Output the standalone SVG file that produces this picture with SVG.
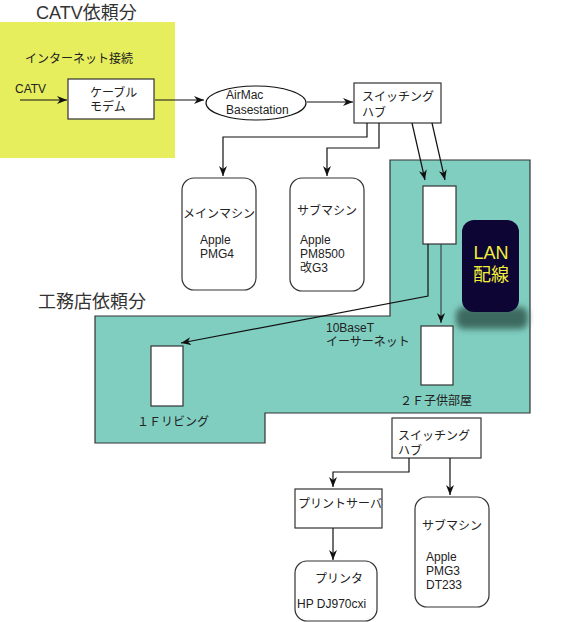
<svg xmlns="http://www.w3.org/2000/svg" width="565" height="622" viewBox="0 0 565 622">
<defs>
<style>
text{font-family:"Liberation Sans","Noto Sans CJK JP",sans-serif;font-size:12px;fill:#222}
.title{font-size:18px;fill:#333}
.box{fill:#fff;stroke:#333;stroke-width:1.2}
.conn{fill:none;stroke:#111;stroke-width:1.2}
.lan{font-size:18px;fill:#f2ee3a}
</style>
<marker id="ah" viewBox="0 0 10 8" refX="10" refY="4" markerWidth="10" markerHeight="8" markerUnits="userSpaceOnUse" orient="auto">
<path d="M0,0 L10,4 L0,8 L3,4 z" fill="#111"/>
</marker>
<filter id="blur" x="-30%" y="-60%" width="160%" height="220%"><feGaussianBlur stdDeviation="3"/></filter>
</defs>
<rect width="565" height="622" fill="#fff"/>

<g id="catv-area">
<rect x="0" y="22" width="175" height="136" fill="#e6ee5e"/>
<text class="title" x="36" y="19">CATV依頼分</text>
<text x="25" y="63">インターネット接続</text>
<text x="15" y="93">CATV</text>
</g>

<g id="koumuten-area">
<polygon points="390,160 530,160 530,413 265,413 265,443 95,443 95,316 390,316" fill="#80cec0" stroke="#333" stroke-width="1.2"/>
<text class="title" x="38" y="308">工務店依頼分</text>
<text x="326" y="332">10BaseT</text>
<text x="326" y="346">イーサーネット</text>
<text x="400" y="405">２Ｆ子供部屋</text>
<text x="137" y="426">１Ｆリビング</text>
</g>

<g id="lan-label">
<rect x="456" y="307" width="72" height="22" rx="8" fill="#3e6a60" filter="url(#blur)"/>
<rect x="462" y="220" width="57" height="92" rx="12" fill="#0d0533"/>
<text class="lan" x="491" y="259" text-anchor="middle">LAN</text>
<text class="lan" x="491" y="281" text-anchor="middle">配線</text>
</g>

<g id="cable-modem">
<rect class="box" x="68" y="79" width="86" height="40"/>
<text x="90" y="97">ケーブル</text>
<text x="90" y="111">モデム</text>
</g>

<g id="airmac">
<ellipse cx="256" cy="103" rx="50" ry="17" fill="#fff" stroke="#111" stroke-width="1.2"/>
<text x="226" y="99">AirMac</text>
<text x="226" y="114">Basestation</text>
</g>

<g id="hub1">
<rect class="box" x="354" y="83" width="87" height="40"/>
<text x="362" y="101">スイッチング</text>
<text x="362" y="117">ハブ</text>
</g>

<g id="main-machine">
<rect class="box" x="182" y="178" width="74" height="112" rx="12"/>
<text x="183" y="218">メインマシン</text>
<text x="200" y="244">Apple</text>
<text x="200" y="258">PMG4</text>
</g>

<g id="sub-machine1">
<rect class="box" x="290" y="178" width="74" height="113" rx="12"/>
<text x="297" y="215">サブマシン</text>
<text x="300" y="244">Apple</text>
<text x="300" y="258">PM8500</text>
<text x="300" y="272">改G3</text>
</g>

<g id="wall-outlet-upper">
<rect class="box" x="423" y="186" width="33" height="58"/>
</g>
<g id="wall-outlet-2f">
<rect class="box" x="421" y="326" width="32" height="59"/>
</g>
<g id="wall-outlet-1f">
<rect class="box" x="151" y="346" width="32" height="60"/>
</g>

<g id="hub2">
<rect class="box" x="392" y="418" width="89" height="40"/>
<text x="398" y="440">スイッチング</text>
<text x="398" y="455">ハブ</text>
</g>

<g id="print-server">
<rect class="box" x="295" y="489" width="87" height="39"/>
<text x="298" y="508">プリントサーバ</text>
</g>

<g id="printer">
<rect class="box" x="295" y="561" width="82" height="60" rx="12"/>
<text x="315" y="583">プリンタ</text>
<text x="297" y="608">HP DJ970cxi</text>
</g>

<g id="sub-machine2">
<rect class="box" x="415" y="497" width="74" height="110" rx="12"/>
<text x="422" y="530">サブマシン</text>
<text x="426" y="561">Apple</text>
<text x="426" y="575">PMG3</text>
<text x="426" y="589">DT233</text>
</g>

<g id="connectors">
<path class="conn" d="M20,100 L67,100" marker-end="url(#ah)"/>
<path class="conn" d="M155,100 L204,100" marker-end="url(#ah)"/>
<path class="conn" d="M307,102 L353,102" marker-end="url(#ah)"/>
<path class="conn" d="M367,123 L367,137 L223,137 L223,176" marker-end="url(#ah)"/>
<path class="conn" d="M379,123 L379,148 L327,148 L327,176" marker-end="url(#ah)"/>
<path class="conn" d="M412,123 L425,180" marker-end="url(#ah)"/>
<path class="conn" d="M432,123 L445,180" marker-end="url(#ah)"/>
<path class="conn" d="M428,244 L428,296 L181,343" marker-end="url(#ah)"/>
<path class="conn" d="M441,244 L441,323" style="stroke:#3a4a48" marker-end="url(#ah)"/>
<path class="conn" d="M409,458 L409,472 L333,472 L333,487" marker-end="url(#ah)"/>
<path class="conn" d="M450,458 L450,495" marker-end="url(#ah)"/>
<path class="conn" d="M333,528 L333,560" marker-end="url(#ah)"/>
</g>
</svg>
